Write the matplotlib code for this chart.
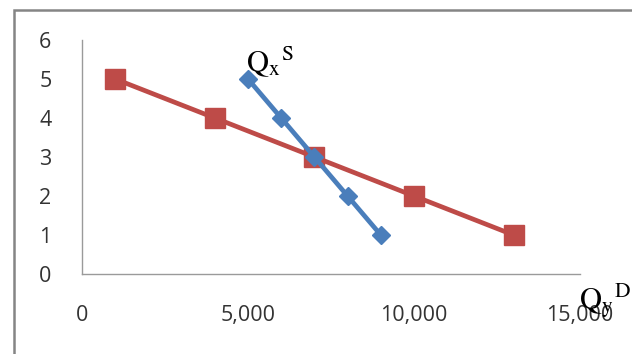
import matplotlib
matplotlib.use("Agg")
import matplotlib.pyplot as plt
from matplotlib.patches import Rectangle

# Supply (blue) and demand (red) schedules
supply_qty = [5000, 6000, 7000, 8000, 9000]
supply_price = [5, 4, 3, 2, 1]
demand_qty = [1000, 4000, 7000, 10000, 13000]
demand_price = [5, 4, 3, 2, 1]

x_ticks = [0, 5000, 10000, 15000]
x_tick_labels = ["0", "5,000", "10,000", "15,000"]
y_ticks = [0, 1, 2, 3, 4, 5, 6]

plt.rcParams["mathtext.fontset"] = "stix"

fig = plt.figure(figsize=(6.32, 3.54), dpi=100)
fig.patch.set_facecolor("white")

# Outer chart frame
fig.patches.append(Rectangle((14 / 632, -0.2), 1.2, 1.2 - 10 / 354,
                             transform=fig.transFigure, fill=False,
                             edgecolor="#858585", linewidth=1.8))

ax = fig.add_axes([82 / 632, 80 / 354, 498 / 632, 234 / 354])

ax.plot(demand_qty, demand_price, color="#BE4B48", linewidth=3.4,
        marker="s", markersize=14.5, zorder=3)
ax.plot(supply_qty, supply_price, color="#4A7EBB", linewidth=3.4,
        marker="D", markersize=9.5, zorder=4)

ax.set_xlim(0, 15000)
ax.set_ylim(0, 6)
ax.set_xticks(x_ticks)
ax.set_xticklabels(x_tick_labels)
ax.set_yticks(y_ticks)

for side in ("top", "right"):
    ax.spines[side].set_visible(False)
for side in ("left", "bottom"):
    ax.spines[side].set_color("#9a9a9a")
    ax.spines[side].set_linewidth(1.0)

ax.tick_params(axis="both", length=0, labelsize=15.5, labelcolor="#333333",
               labelfontfamily="Open Sans")
ax.tick_params(axis="x", pad=22)
ax.tick_params(axis="y", pad=22)

ax.text(4950, 5.2, r"$\mathrm{Q}_{\mathrm{x}}{}^{\mathrm{S}}$", fontsize=22,
        color="black", ha="left", va="baseline", clip_on=False)
ax.text(14980, -0.88, r"$\mathrm{Q}_{\mathrm{y}}{}^{\mathrm{D}}$", fontsize=22,
        color="black", ha="left", va="baseline", clip_on=False)

fig.savefig("out.png", dpi=100, facecolor="white")
